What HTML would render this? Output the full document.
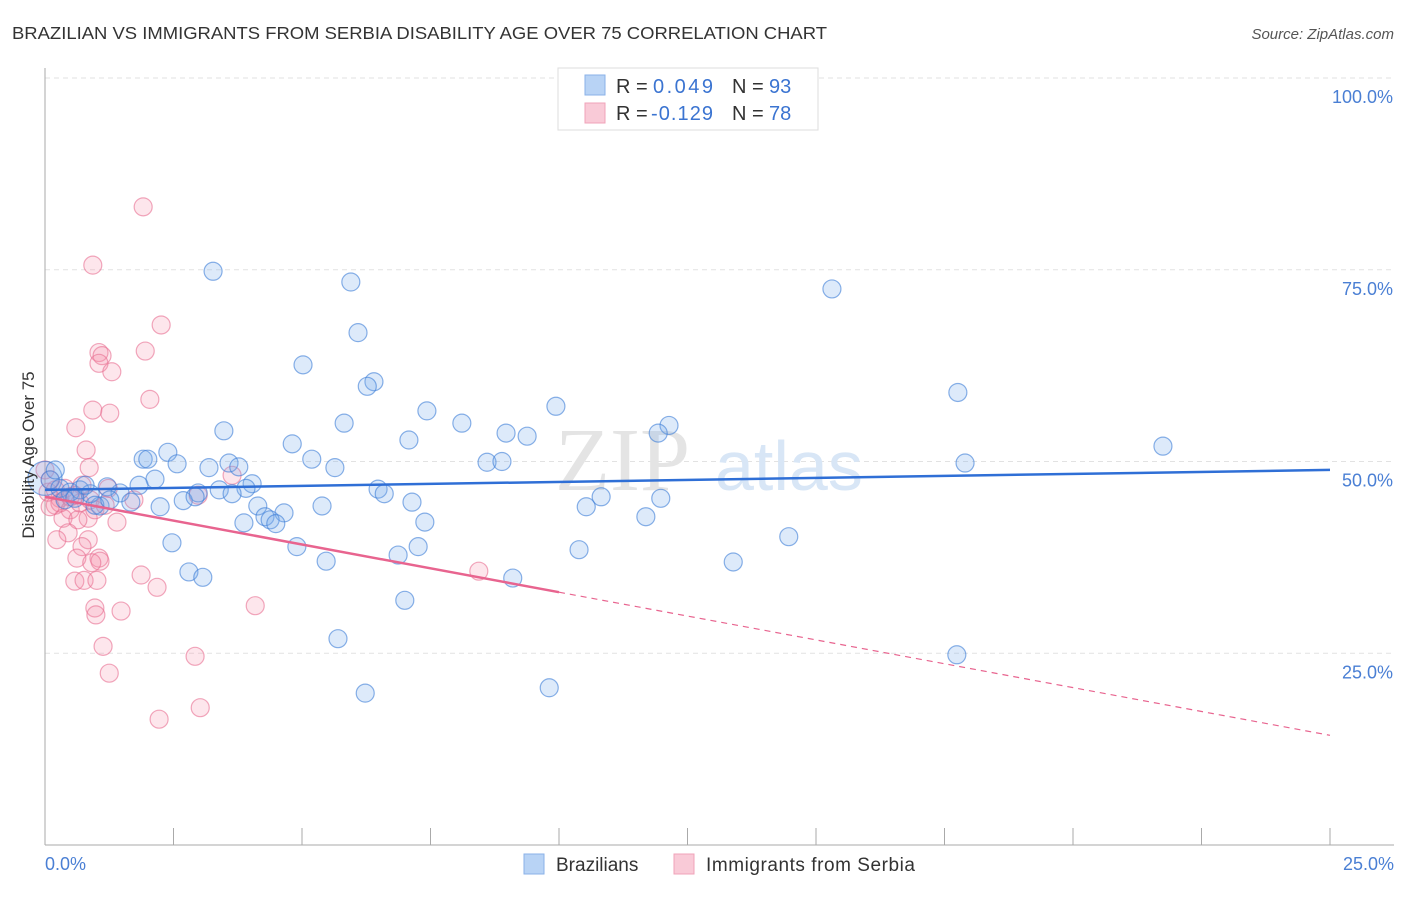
<!DOCTYPE html>
<html><head><meta charset="utf-8"><style>
body{margin:0;background:#fff;font-family:"Liberation Sans",sans-serif}
</style></head><body>
<svg width="1406" height="892" xmlns="http://www.w3.org/2000/svg">
<text x="12" y="39" font-size="17.5" fill="#333" textLength="815" lengthAdjust="spacingAndGlyphs">BRAZILIAN VS IMMIGRANTS FROM SERBIA DISABILITY AGE OVER 75 CORRELATION CHART</text>
<text x="1394" y="39" font-size="15" fill="#555" font-style="italic" text-anchor="end">Source: ZipAtlas.com</text>
<g id="grid"></g>
<text x="690" y="490" font-size="90" fill="#e4e4e4" font-family="Liberation Serif" text-anchor="end">ZIP</text>
<text x="715" y="490" font-size="70" fill="#d8e6f6">atlas</text>
<g id="marks"></g>
<text transform="translate(34,455) rotate(-90)" font-size="17" fill="#333" text-anchor="middle">Disability Age Over 75</text>
<text x="45" y="870" font-size="18" fill="#4a7fd4">0.0%</text>
<text x="1394" y="870" font-size="18" fill="#4a7fd4" text-anchor="end">25.0%</text>
<g>
<rect x="558" y="68" width="260" height="62" fill="#fff" stroke="#ddd"/>
<rect x="585" y="75" width="20" height="20" fill="#b8d3f5" stroke="#8ab2e8"/>
<rect x="585" y="103" width="20" height="20" fill="#f9cad7" stroke="#f0a3b9"/>
<text y="93" font-size="20" fill="#333"><tspan x="616">R =</tspan><tspan x="653" fill="#3b74d1" textLength="60">0.049</tspan><tspan x="732">N =</tspan><tspan x="769" fill="#3b74d1">93</tspan></text>
<text y="120" font-size="20" fill="#333"><tspan x="616">R =</tspan><tspan x="651" fill="#3b74d1" textLength="62">-0.129</tspan><tspan x="732">N =</tspan><tspan x="769" fill="#3b74d1">78</tspan></text>
</g>
<g>
<rect x="524" y="854" width="20" height="20" fill="#b8d3f5" stroke="#8ab2e8"/>
<text x="556" y="871" font-size="19" fill="#333">Brazilians</text>
<rect x="674" y="854" width="20" height="20" fill="#f9cad7" stroke="#f0a3b9"/>
<text x="706" y="871" font-size="19" fill="#333" textLength="209">Immigrants from Serbia</text>
</g>
</svg>
<script>
const yTicks=[25,50,75,100];
const yTickLabels=["25.0%","50.0%","75.0%","100.0%"];
const xTicks=[0,2.5,5,7.5,10,12.5,15,17.5,20,22.5,25];
const blueX=[3.27,5.95,15.31,6.09,5.02,6.4,6.27,17.76,9.94,7.43,5.82,8.11,12.14,11.93,3.48,8.97,9.38,7.08,4.81,21.75,2.39,1.91,2.0,5.19,3.58,8.6,8.89,17.9,2.57,3.19,5.64,3.77,2.14,4.03,3.91,1.83,6.48,3.39,3.64,2.98,6.6,1.46,1.21,10.82,11.98,2.69,2.92,7.14,5.39,2.24,1.67,10.53,1.07,4.14,4.65,4.28,4.38,4.49,3.87,7.39,11.69,14.47,2.47,4.9,7.26,10.39,6.87,5.47,13.39,2.8,3.07,9.1,7.0,5.7,17.74,6.23,9.81,0,0.1,0.29,0.49,0.68,0.88,0.39,0.58,0.97,0.78,0.2,1.26];
const blueY=[74.8,73.4,72.5,66.8,62.6,60.4,59.8,59.0,57.2,56.6,55.0,55.0,54.7,53.7,54.0,53.7,53.3,52.8,52.3,52.0,51.2,50.3,50.3,50.3,49.8,49.9,50.0,49.8,49.7,49.2,49.2,49.3,47.7,47.1,46.5,46.9,46.4,46.3,45.8,45.9,45.8,45.9,46.7,45.4,45.2,44.9,45.4,44.7,44.2,44.1,44.7,44.1,44.2,44.2,43.3,42.8,42.4,41.9,42.0,42.1,42.8,40.2,39.4,38.9,38.9,38.5,37.8,37.0,36.9,35.6,34.9,34.8,31.9,26.9,24.8,19.8,20.5,47.8,47.6,46.5,46.0,46.3,45.8,45.0,45.2,44.3,46.9,48.9,45.0];
const pinkX=[1.91,0.93,2.26,1.95,1.05,1.11,1.05,1.3,2.04,0.93,1.26,0.6,0.8,0.86,3.64,0.72,2.98,1.73,1.23,0.58,0.29,0.2,0.49,0.84,0.35,1.4,0.64,0.45,0.84,0.23,0.72,1.05,0.62,1.07,0.91,1.87,8.44,0.58,0.76,1.01,2.18,4.09,0.97,1.48,0.99,1.13,2.92,1.25,3.02,2.22,0.1,0.06,0.2,0.39,0.49,0.29,0.68,0.88,0.97,0.1,1.17,0];
const pinkY=[83.2,75.6,67.8,64.4,64.2,63.8,62.8,61.7,58.1,56.7,56.3,54.4,51.5,49.2,48.2,46.9,45.6,45.0,46.5,45.6,45.2,44.3,43.7,42.6,42.6,42.1,42.4,40.7,39.8,39.8,38.9,37.4,37.4,37.0,36.8,35.2,35.7,34.4,34.5,34.5,33.6,31.2,30.9,30.5,30.0,25.9,24.6,22.4,17.9,16.4,47.6,46.0,46.3,46.5,45.4,44.6,44.6,45.0,43.7,44.1,44.3,48.9];
const blueTrend=[46.3,48.9];
const pinkTrend=[45.4,14.3];
const pinkSolidEnd=10.0;

const NS="http://www.w3.org/2000/svg";
const sx=v=>45+v/25*1285;
const sy=v=>845-v*7.67;
const grid=document.getElementById('grid'),marks=document.getElementById('marks');
function mk(tag,attrs,parent){const e=document.createElementNS(NS,tag);for(const k in attrs)e.setAttribute(k,attrs[k]);parent.appendChild(e);return e;}
yTicks.forEach((t,i)=>{
  const l=mk('line',{x1:45,x2:1394,y1:sy(t),y2:sy(t),stroke:'#e2e2e2','stroke-dasharray':'5,4'},grid);
  
  
  const tx=mk('text',{x:1393,y:sy(t)+25,'font-size':18,fill:'#4a7fd4','text-anchor':'end'},grid);
  tx.textContent=yTickLabels[i];
  
  
});
const ax=mk('line',{x1:45,x2:45,y1:68,y2:845,stroke:'#aaa'},grid);


const bx=mk('line',{x1:45,x2:1394,y1:845,y2:845,stroke:'#aaa'},grid);


xTicks.forEach(t=>{
  const l=mk('line',{x1:sx(t),x2:sx(t),y1:828,y2:845,stroke:'#aaa'},grid);
  
  
});
pinkX.forEach((x,i)=>{
  const c=mk('circle',{cx:sx(x),cy:sy(pinkY[i]),r:9,fill:'rgba(244,143,170,0.22)',stroke:'rgba(232,110,145,0.6)','stroke-width':1.2},marks);
  
  
});
blueX.forEach((x,i)=>{
  const c=mk('circle',{cx:sx(x),cy:sy(blueY[i]),r:(x===0?17:9),fill:'rgba(120,170,235,0.25)',stroke:'rgba(60,125,215,0.6)','stroke-width':1.2},marks);
  
  
});
const bt=mk('line',{x1:sx(0),y1:sy(blueTrend[0]),x2:sx(25),y2:sy(blueTrend[1]),stroke:'#2f6fd6','stroke-width':2.5},marks);


const pAt=x=>pinkTrend[0]+(pinkTrend[1]-pinkTrend[0])*x/25;
const pt=mk('line',{x1:sx(0),y1:sy(pinkTrend[0]),x2:sx(pinkSolidEnd),y2:sy(pAt(pinkSolidEnd)),stroke:'#e8648f','stroke-width':2.5},marks);


const pd=mk('line',{x1:sx(pinkSolidEnd),y1:sy(pAt(pinkSolidEnd)),x2:sx(25),y2:sy(pinkTrend[1]),stroke:'#e8648f','stroke-width':1.2,'stroke-dasharray':'6,5'},marks);


</script>
</body></html>
